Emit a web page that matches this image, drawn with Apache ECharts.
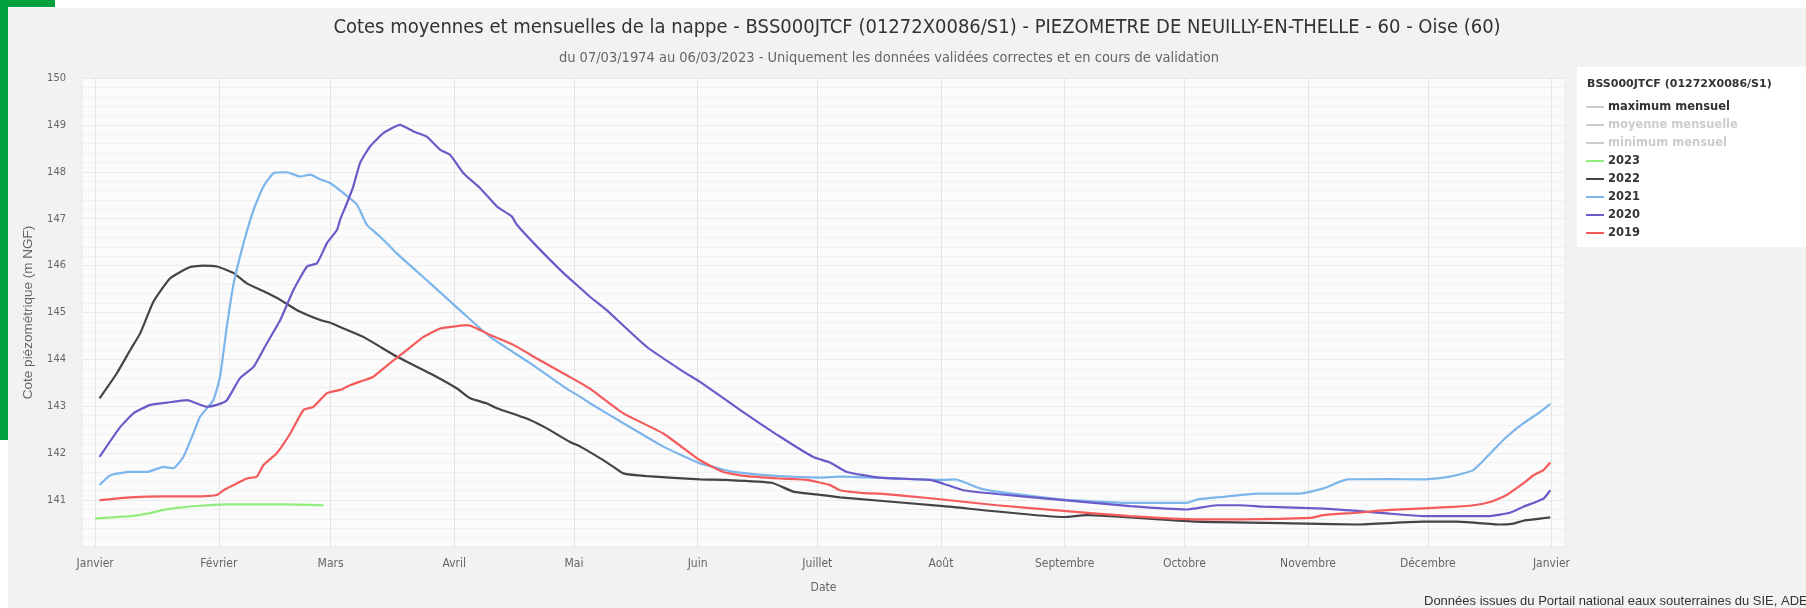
<!DOCTYPE html>
<html><head><meta charset="utf-8">
<script src="https://cdn.jsdelivr.net/npm/echarts@6/dist/echarts.min.js"></script>
<style>html,body{margin:0;padding:0;background:#fff;}#c{width:1806px;height:608px;}</style>
</head><body><div id="c"></div>
<script>
// ---- data ----
const monthNames = ['Janvier','Février','Mars','Avril','Mai','Juin','Juillet','Août','Septembre','Octobre','Novembre','Décembre','Janvier'];
const monthStartDays = [0,31,59,90,120,151,181,212,243,273,304,334,365];
const yTicks = [140,141,142,143,144,145,146,147,148,149,150];
const seriesNames = ['maximum mensuel','moyenne mensuelle','minimum mensuel','2023','2022','2021','2020','2019'];

// [day of year, level (m NGF)]
const y2023 = [[0,140.61],[8.8,140.66],[13,140.71],[17.1,140.79],[21.3,140.84],[26.3,140.88],[33.8,140.91],[42.2,140.91],[48,140.91],[57.2,140.89]];
const y2022 = [[1.1,143.17],[5.4,143.70],[8.8,144.20],[11.3,144.56],[14.6,145.23],[18.8,145.73],[23.8,145.97],[27.1,146.00],[30.5,145.98],[34.7,145.84],[38,145.62],[43,145.42],[46.4,145.27],[50.6,145.05],[56.4,144.84],[58.9,144.78],[61.4,144.69],[67.2,144.48],[75.6,144.06],[84,143.70],[90.7,143.38],[94,143.17],[98.2,143.06],[100.7,142.96],[109,142.71],[113.2,142.53],[119,142.24],[121.6,142.14],[126.6,141.89],[129.9,141.71],[132.4,141.57],[138.3,141.51],[151.6,141.44],[158.3,141.43],[169.6,141.37],[175,141.18],[181.7,141.11],[186.7,141.06],[212.6,140.87],[242.7,140.64],[248.5,140.68],[276.1,140.54],[303.7,140.50],[316.2,140.48],[332.9,140.54],[341.3,140.54],[352.1,140.48],[355.5,140.50],[358,140.56],[364.7,140.63]];
const y2021 = [[1.1,141.32],[3.8,141.53],[8.8,141.60],[13,141.60],[17.1,141.71],[19.6,141.68],[22.1,141.92],[24.6,142.42],[26.3,142.78],[29.6,143.13],[31.3,143.63],[33,144.70],[34.7,145.62],[37.2,146.48],[39.7,147.19],[42.2,147.69],[44.7,147.97],[48,147.99],[51.4,147.90],[53.9,147.94],[56.4,147.84],[58.9,147.76],[61.4,147.60],[65.6,147.30],[68.1,146.87],[71.4,146.62],[75.6,146.26],[84,145.62],[92.3,144.98],[99,144.48],[109,143.92],[117.4,143.42],[121.6,143.20],[124.1,143.06],[132.4,142.64],[142.4,142.14],[151.6,141.78],[154.9,141.71],[160,141.60],[171.7,141.51],[181.7,141.48],[186.7,141.50],[212.6,141.43],[215.5,141.44],[221.8,141.25],[226,141.18],[242.7,141.01],[259.4,140.94],[273.6,140.94],[276.1,141.01],[282.8,141.07],[291.2,141.14],[302,141.14],[307.9,141.25],[313.8,141.44],[324.6,141.45],[332.9,141.44],[339.6,141.50],[345.4,141.64],[349.6,141.99],[353.8,142.35],[358,142.64],[362.2,142.88],[364.7,143.05]];
const y2020 = [[1.1,141.92],[6.3,142.56],[9.6,142.85],[13.8,143.03],[18,143.08],[23,143.13],[28,142.99],[30.5,143.03],[33,143.13],[36.3,143.60],[39.7,143.84],[43,144.34],[46.4,144.84],[49.7,145.48],[53.1,145.98],[55.6,146.05],[58.1,146.48],[60.6,146.76],[61.4,146.98],[63.1,147.33],[64.7,147.69],[66.4,148.19],[68.9,148.54],[72.3,148.83],[76.4,149.00],[79.8,148.86],[83.1,148.75],[86.5,148.47],[89,148.36],[92.3,147.97],[96.5,147.65],[100.7,147.26],[104.4,147.05],[105.7,146.87],[110.7,146.41],[117.4,145.84],[121.6,145.52],[124.1,145.33],[128.2,145.05],[138.2,144.27],[147.4,143.74],[151.6,143.52],[161.7,142.92],[171.7,142.35],[180,141.92],[184.2,141.80],[188.4,141.60],[196.7,141.48],[209.3,141.43],[212.6,141.35],[217.6,141.21],[226,141.13],[242.7,141.00],[259.4,140.87],[273.6,140.80],[281.1,140.89],[287,140.89],[292.8,140.86],[307.9,140.82],[316.2,140.77],[324.6,140.71],[332.9,140.66],[341.3,140.66],[349.6,140.66],[354.6,140.73],[358,140.86],[363,141.03],[364.7,141.21]];
const y2019 = [[1.1,141.00],[8.8,141.06],[17.1,141.08],[26.3,141.08],[30.5,141.11],[32.2,141.21],[34.7,141.32],[38,141.46],[40.5,141.50],[42.2,141.75],[45.5,142.00],[48.9,142.42],[52.2,142.92],[54.7,142.99],[58.1,143.28],[61.4,143.35],[63.9,143.45],[67.2,143.55],[69.7,143.63],[73.9,143.92],[78.1,144.20],[82.3,144.48],[86.5,144.66],[90.7,144.71],[93.2,144.73],[95.7,144.66],[99,144.52],[104.8,144.31],[110.7,144.02],[117.4,143.70],[121.6,143.50],[124.1,143.37],[132.4,142.85],[142.4,142.42],[151.6,141.85],[157.5,141.60],[163.3,141.51],[171.7,141.46],[178.4,141.43],[184.2,141.32],[186.7,141.21],[192.6,141.15],[196.7,141.14],[209.3,141.04],[226,140.89],[242.7,140.77],[259.4,140.66],[276.1,140.59],[287,140.59],[304.5,140.62],[307.9,140.68],[316.2,140.73],[324.6,140.79],[341.3,140.86],[345.4,140.89],[349.6,140.96],[353.8,141.11],[358,141.36],[360.5,141.53],[363,141.64],[364.7,141.80]];

const colors = {'maximum mensuel':'#cccccc','moyenne mensuelle':'#cccccc','minimum mensuel':'#cccccc','2023':'#90ed7d','2022':'#434348','2021':'#7cb5ec','2020':'#6a5bc8','2019':'#f45b5b'};
const dataByName = {'maximum mensuel':[],'moyenne mensuelle':[],'minimum mensuel':[],'2023':y2023,'2022':y2022,'2021':y2021,'2020':y2020,'2019':y2019};

const condensed = '"DejaVu Sans Condensed",sans-serif';
const regular = '"Liberation Sans",Arial,sans-serif';
const chart = echarts.init(document.getElementById('c'), null, {renderer:'canvas'});
const series = seriesNames.map(n => ({
  name: n, type: 'line', data: dataByName[n], showSymbol: false, symbol: 'none',
  smooth: 0.15, color: colors[n], lineStyle: {width: 2.2, color: colors[n]}, z: 3,
  emphasis: {disabled: true}
}));

chart.setOption({
  animation: false,
  backgroundColor: '#ffffff',
  graphic: [
    {type:'rect', shape:{x:8,y:8,width:1798,height:600}, style:{fill:'#f2f2f2'}, z:-10, silent:true},
    {type:'rect', shape:{x:0,y:0,width:8,height:440}, style:{fill:'#00a03c'}, z:-5, silent:true},
    {type:'rect', shape:{x:0,y:0,width:55,height:7}, style:{fill:'#00a03c'}, z:-5, silent:true},
    {type:'rect', shape:{x:1577,y:67,width:240,height:180}, style:{fill:'#ffffff'}, z:-5, silent:true},
    {type:'text', left:1424, top:595, style:{text:'Données issues du Portail national eaux souterraines du SIE, ADES', fill:'#333', fontSize:13, fontFamily:regular}, z:5}
  ],
  title: [
    {text:'Cotes moyennes et mensuelles de la nappe - BSS000JTCF (01272X0086/S1) - PIEZOMETRE DE NEUILLY-EN-THELLE - 60 - Oise (60)',
     left:912, top:13, textAlign:'center',
     textStyle:{fontSize:20, fontWeight:'normal', color:'#333', fontFamily:condensed}},
    {text:'du 07/03/1974 au 06/03/2023 - Uniquement les données validées correctes et en cours de validation',
     left:884, top:46, textAlign:'center',
     textStyle:{fontSize:14.5, fontWeight:'normal', color:'#666', fontFamily:condensed}},
    {text:'BSS000JTCF (01272X0086/S1)', left:1582, top:74,
     textStyle:{fontSize:11, fontWeight:'bold', color:'#333', fontFamily:'"DejaVu Sans",sans-serif'}}
  ],
  legend: {
    orient:'vertical', left:1581, top:95, data: seriesNames,
    icon:'rect', itemWidth:18, itemHeight:2, itemGap:4,
    selected: {'moyenne mensuelle':false,'minimum mensuel':false},
    inactiveColor:'#cccccc',
    textStyle:{fontSize:11.5, fontWeight:'bold', color:'#333', fontFamily:'"DejaVu Sans",sans-serif', lineHeight:14, padding:[0,0,0,-1]},
    z: 6
  },
  grid: {left:82, right:241, top:78, bottom:61, show:true, backgroundColor:'#fbfbfb', borderColor:'#e8e8e8', borderWidth:1},
  xAxis: {
    type:'value', min:-3.3, max:368.4,
    name:'Date', nameLocation:'middle', nameGap:35,
    nameTextStyle:{fontSize:12, color:'#666', fontFamily:condensed},
    axisLine:{show:false},
    axisTick:{show:false, customValues: monthStartDays},
    axisLabel:{customValues: monthStartDays, margin:11, fontSize:12, color:'#666', fontFamily:condensed,
      formatter: v => monthNames[monthStartDays.indexOf(Math.round(v))]},
    splitLine:{show:true, lineStyle:{color:'#e4e4e4', width:1}}
  },
  yAxis: {
    type:'value', min:yTicks[0], max:yTicks[yTicks.length-1], interval:1,
    name:'Cote piézométrique (m NGF)', nameLocation:'middle', nameGap:47,
    nameTextStyle:{fontSize:13.5, color:'#666', fontFamily:regular},
    axisLine:{show:false}, axisTick:{show:false},
    axisLabel:{showMinLabel:false, margin:16, fontSize:11, color:'#666', fontFamily:condensed},
    splitLine:{show:true, lineStyle:{color:'#ebebeb', width:1}},
    minorTick:{show:false, splitNumber:5},
    minorSplitLine:{show:true, lineStyle:{color:'#f1f1f1', width:1}}
  },
  series: series
});
</script></body></html>
